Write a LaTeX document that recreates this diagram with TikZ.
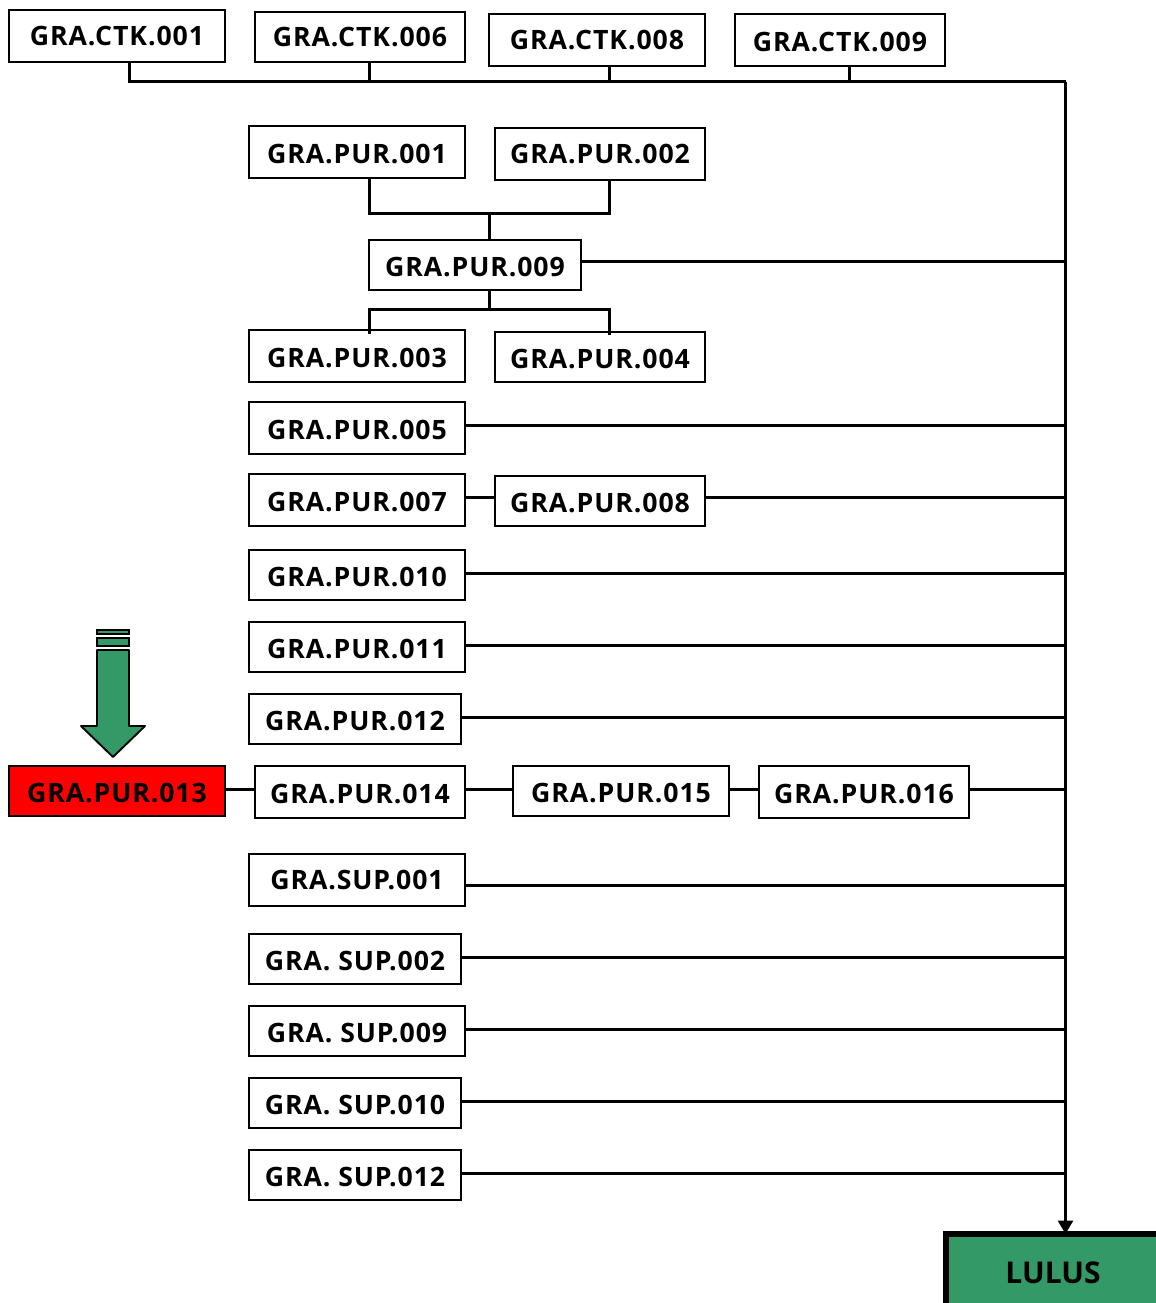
\documentclass[tikz,border=0pt]{standalone}
\usepackage{fontspec}
\setmainfont{Open Sans}[LetterSpace=3.4]
\usepackage{tikz}
\usetikzlibrary{positioning}
\usetikzlibrary{arrows.meta,bending}
\definecolor{lulusgreen}{HTML}{339966}
\tikzset{
    box/.style={draw, fill=white, line width=1.1pt, inner sep=0pt, outer sep=0pt, text height=16.5pt, text depth=0pt, font=\bfseries\fontsize{20}{22}\selectfont},
    wa/.style={minimum width=162pt},
    wb/.style={minimum width=159pt},
    wc/.style={minimum width=157.5pt},
    ha/.style={minimum height=39pt},
    hb/.style={minimum height=37.5pt},
    high/.style={text height=14pt},
    link/.style={line width=2.8pt},
    linkend/.style={line width=2.8pt, -{Triangle[length=10pt,width=11pt]}}
}

\begin{document}
\begin{tikzpicture}[x=0.75pt, y=-0.75pt]
    \useasboundingbox (0,0) rectangle (1156,1303);
    \clip (0,0) rectangle (1156,1303);

    \node[box, wa, ha, high] (ctk001) at (117,36) {GRA.CTK.001};
    \node[box, wc, hb, high] (ctk006) at (360,37) {GRA.CTK.006};
    \node[box, wa, ha, high] (ctk008) at (597,40) {GRA.CTK.008};
    \node[box, wc, ha] (ctk009) at (840,40) {GRA.CTK.009};

    \node[box, wa, ha] (pur001) at (357,152) {GRA.PUR.001};
    \node[box, wc, ha, high] (pur002) at (600,154) {GRA.PUR.002};
    \node[box, wb, hb] (pur009) at (475,265) {GRA.PUR.009};
    \node[box, wa, ha] (pur003) at (357,356) {GRA.PUR.003};
    \node[box, wc, hb] (pur004) at (600,357) {GRA.PUR.004};
    \node[box, wa, ha] (pur005) at (357,428) {GRA.PUR.005};
    \node[box, wa, ha] (pur007) at (357,500) {GRA.PUR.007};
    \node[box, wc, hb] (pur008) at (600,501) {GRA.PUR.008};
    \node[box, wa, hb] (pur010) at (357,575) {GRA.PUR.010};
    \node[box, wa, hb] (pur011) at (357,647) {GRA.PUR.011};
    \node[box, wb, hb] (pur012) at (355,719) {GRA.PUR.012};
    \node[box, wa, hb, fill=red] (pur013) at (117,791) {GRA.PUR.013};
    \node[box, wc, ha] (pur014) at (360,792) {GRA.PUR.014};
    \node[box, wa, hb] (pur015) at (621,791) {GRA.PUR.015};
    \node[box, wc, ha] (pur016) at (864,792) {GRA.PUR.016};

    \node[box, wa, ha, high] (sup001) at (357,880) {GRA.SUP.001};
    \node[box, wb, hb] (sup002) at (355,959) {GRA. SUP.002};
    \node[box, wa, hb] (sup009) at (357,1031) {GRA. SUP.009};
    \node[box, wb, hb] (sup010) at (355,1103) {GRA. SUP.010};
    \node[box, wb, hb] (sup012) at (355,1175) {GRA. SUP.012};

    \node[box, line width=4.2pt, fill=lulusgreen, minimum width=160.5pt, minimum height=57pt, text height=17.6pt, font=\bfseries\fontsize{22.5}{24}\selectfont\addfontfeature{LetterSpace=0}] (lulus) at (1053,1272) {LULUS};

    \coordinate (bustop) at (1065.5,81.5);
    \coordinate (dropa) at (129.5,81.5);
    \coordinate (dropb) at (369.5,81.5);
    \coordinate (dropc) at (609.5,81.5);
    \coordinate (dropd) at (849.5,81.5);
    \coordinate (joina) at (369.5,213.5);
    \coordinate (joinb) at (609.5,213.5);
    \coordinate (joinc) at (489.5,213.5);
    \coordinate (splita) at (369.5,309.5);
    \coordinate (splitb) at (609.5,309.5);
    \coordinate (splitc) at (489.5,309.5);
    \coordinate (row009) at (1065.5,261.5);
    \coordinate (row005) at (1065.5,425.5);
    \coordinate (row007) at (1065.5,497.5);
    \coordinate (row010) at (1065.5,573.5);
    \coordinate (row011) at (1065.5,645.5);
    \coordinate (row012) at (1065.5,717.5);
    \coordinate (row013) at (1065.5,789.5);
    \coordinate (rowsup001) at (1065.5,885.5);
    \coordinate (rowsup002) at (1065.5,957.5);
    \coordinate (rowsup009) at (1065.5,1029.5);
    \coordinate (rowsup010) at (1065.5,1101.5);
    \coordinate (rowsup012) at (1065.5,1173.5);

    \draw[link] (dropa |- ctk001.south) -- (dropa) -- (bustop);
    \draw[link] (dropb |- ctk006.south) -- (dropb);
    \draw[link] (dropc |- ctk008.south) -- (dropc);
    \draw[link] (dropd |- ctk009.south) -- (dropd);
    \draw[linkend] (bustop) -- (bustop |- lulus.north);

    \draw[link] (joina |- pur001.south) -- (joina) -- (joinb) -- (joinb |- pur002.south);
    \draw[link] (joinc) -- (joinc |- pur009.north);
    \draw[link] (splitc |- pur009.south) -- (splitc);
    \draw[link] ([yshift=-3pt]splita |- pur003.north) -- (splita) -- (splitb) -- ([yshift=-2pt]splitb |- pur004.north);

    \draw[link] (row009 -| pur009.east) -- (row009);
    \draw[link] (row005 -| pur005.east) -- (row005);
    \draw[link] (row007 -| pur007.east) -- (row007 -| pur008.west);
    \draw[link] (row007 -| pur008.east) -- (row007);
    \draw[link] (row010 -| pur010.east) -- (row010);
    \draw[link] (row011 -| pur011.east) -- (row011);
    \draw[link] (row012 -| pur012.east) -- (row012);
    \draw[link] (row013 -| pur013.east) -- (row013 -| pur014.west);
    \draw[link] (row013 -| pur014.east) -- (row013 -| pur015.west);
    \draw[link] (row013 -| pur015.east) -- (row013 -| pur016.west);
    \draw[link] (row013 -| pur016.east) -- (row013);
    \draw[link] (rowsup001 -| sup001.east) -- (rowsup001);
    \draw[link] (rowsup002 -| sup002.east) -- (rowsup002);
    \draw[link] (rowsup009 -| sup009.east) -- (rowsup009);
    \draw[link] (rowsup010 -| sup010.east) -- (rowsup010);
    \draw[link] (rowsup012 -| sup012.east) -- (rowsup012);

    \draw[line width=1.4pt, fill=lulusgreen] (97,630) -- ++ (32,0) -- ++ (0,4) -- ++ (-32,0) -- cycle;
    \draw[line width=1.4pt, fill=lulusgreen] (97,638) -- ++ (32,0) -- ++ (0,8) -- ++ (-32,0) -- cycle;
    \draw[line width=1.4pt, fill=lulusgreen, line join=round] (97,650) -- ++ (32,0) -- ++ (0,76) -- ++ (16,0) -- (113,757) -- (81,726) -- ++ (16,0) -- cycle;
\end{tikzpicture}
\end{document}
